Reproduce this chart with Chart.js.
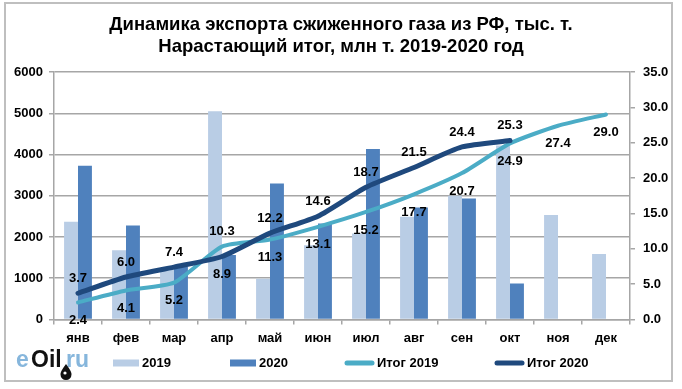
<!DOCTYPE html>
<html>
<head>
<meta charset="utf-8">
<style>
    html, body { margin: 0; padding: 0; background: #fff; }
    #wrap { width: 682px; height: 389px; }
</style>
<script src="https://cdn.jsdelivr.net/npm/chart.js@4"></script>
</head>
<body>
<div id="wrap"><canvas id="chart" width="682" height="389"></canvas></div>
<script>
// Chart data
var months = ['янв', 'фев', 'мар', 'апр', 'май', 'июн', 'июл', 'авг', 'сен', 'окт', 'ноя', 'дек'];
var bars2019 = [2370, 1680, 1235, 5050, 985, 1800, 2085, 2490, 3000, 4220, 2530, 1585];
var bars2020 = [3725, 2280, 1275, 1560, 3295, 2325, 4135, 2715, 2930, 870, null, null];
var total2019 = [2.4, 4.1, 5.2, 10.3, 11.3, 13.1, 15.2, 17.7, 20.7, 24.9, 27.4, 29.0];
var total2020 = [3.7, 6.0, 7.4, 8.9, 12.2, 14.6, 18.7, 21.5, 24.4, 25.3, null, null];
var leftTicks = [0, 1000, 2000, 3000, 4000, 5000, 6000];
var rightTicks = [0, 5, 10, 15, 20, 25, 30, 35];
var titleLines = ['Динамика экспорта сжиженного газа из РФ, тыс. т.', 'Нарастающий итог, млн т. 2019-2020 год'];

var FONT = '"Liberation Sans", Arial, sans-serif';
var GRID = '#a6a6a6';
var LOGO_BLUE = '#86b6dc';

// Legend row: the built-in one is too tall with wide uneven gaps
function drawLegend(chart) {
    var ctx = chart.ctx;
    var slots = [
        { x: 113, w: 26 },
        { x: 230, w: 26 },
        { x: 345, w: 29 },
        { x: 495, w: 29 }
    ];
    var midY = 363;
    ctx.font = 'bold 13px ' + FONT;
    ctx.textAlign = 'left';
    ctx.textBaseline = 'middle';
    chart.data.datasets.forEach(function(ds, i) {
        var s = slots[i];
        if (ds.type === 'line') {
            ctx.strokeStyle = ds.borderColor;
            ctx.lineWidth = 5;
            ctx.lineCap = 'round';
            ctx.beginPath();
            ctx.moveTo(s.x + 2, midY);
            ctx.lineTo(s.x + s.w - 2, midY);
            ctx.stroke();
        } else {
            ctx.fillStyle = ds.backgroundColor;
            ctx.fillRect(s.x, midY - 3.5, s.w, 7);
        }
        ctx.fillStyle = '#000';
        ctx.fillText(ds.label, s.x + s.w + 3, midY + 0.5);
    });
}

// eOil.ru logo with the oil drop under the l
function drawLogo(ctx) {
    ctx.textAlign = 'left';
    ctx.textBaseline = 'alphabetic';
    ctx.font = 'bold 23px ' + FONT;
    ctx.fillStyle = LOGO_BLUE;
    ctx.fillText('e', 16, 367);
    ctx.fillStyle = '#111';
    ctx.fillText('Oil', 31, 367);
    ctx.fillStyle = LOGO_BLUE;
    ctx.fillText('ru', 66, 367);

    ctx.fillStyle = '#111';
    ctx.beginPath();
    ctx.moveTo(66, 364);
    ctx.quadraticCurveTo(72, 372, 71.5, 374.5);
    ctx.arc(66, 374.5, 5.5, 0, Math.PI);
    ctx.quadraticCurveTo(60, 372, 66, 364);
    ctx.fill();
    ctx.fillStyle = '#fff';
    ctx.beginPath();
    ctx.arc(65, 373, 1.6, 0, Math.PI * 2);
    ctx.fill();
}

// Frame, legend, logo and the value labels on the two total lines
var extras = {
    id: 'extras',
    beforeDraw: function(chart) {
        var ctx = chart.ctx;
        ctx.save();
        ctx.strokeStyle = '#bfbfbf';
        ctx.lineWidth = 2;
        ctx.strokeRect(5, 3, 667, 378);
        ctx.restore();
    },
    afterDatasetsDraw: function(chart) {
        var ctx = chart.ctx;
        ctx.save();
        ctx.font = 'bold 13px ' + FONT;
        ctx.fillStyle = '#000';
        ctx.textAlign = 'center';
        ctx.textBaseline = 'middle';
        chart.data.datasets.forEach(function(ds, i) {
            if (ds.type !== 'line') return;
            chart.getDatasetMeta(i).data.forEach(function(pt, j) {
                if (ds.data[j] === null) return;
                var side = ds.flipLabels.indexOf(j) >= 0 ? -ds.labelSide : ds.labelSide;
                var off = side > 0 ? 18 : -15;
                ctx.fillText(ds.data[j].toFixed(1), pt.x, pt.y + off);
            });
        });
        drawLegend(chart);
        drawLogo(ctx);
        ctx.restore();
    }
};

new Chart(document.getElementById('chart'), {
    type: 'bar',
    data: {
        labels: months,
        datasets: [
            { label: '2019', data: bars2019, backgroundColor: '#b9cde5', order: 3, yAxisID: 'y' },
            { label: '2020', data: bars2020, backgroundColor: '#4f81bd', order: 3, yAxisID: 'y' },
            { type: 'line', label: 'Итог 2019', data: total2019, borderColor: '#4bacc6', backgroundColor: '#4bacc6',
              borderWidth: 4, pointRadius: 0, tension: 0.2, borderCapStyle: 'round', order: 2, yAxisID: 'y2',
              labelSide: 1, flipLabels: [3] },
            { type: 'line', label: 'Итог 2020', data: total2020, borderColor: '#1f497d', backgroundColor: '#1f497d',
              borderWidth: 5, pointRadius: 0, tension: 0.2, borderCapStyle: 'round', order: 1, yAxisID: 'y2',
              labelSide: -1, flipLabels: [3] }
        ]
    },
    options: {
        responsive: false,
        animation: false,
        layout: { padding: { left: 0, right: 0, top: 4, bottom: 37 } },
        datasets: { bar: { categoryPercentage: 0.58, barPercentage: 1 } },
        plugins: {
            title: {
                display: true,
                text: titleLines,
                color: '#000',
                font: { family: FONT, size: 18.5, weight: 'bold', lineHeight: 1.19 },
                padding: { top: 10, bottom: 14 }
            },
            legend: { display: false },
            tooltip: { enabled: false }
        },
        scales: {
            x: {
                grid: { display: true, drawOnChartArea: false, color: GRID, tickLength: 5, lineWidth: 1.5 },
                border: { color: GRID, width: 1.5 },
                ticks: { color: '#000', font: { family: FONT, size: 13, weight: 'bold' }, padding: 6, maxRotation: 0 }
            },
            y: {
                position: 'left',
                min: 0,
                max: 6000,
                afterBuildTicks: function(axis) { axis.ticks = leftTicks.map(function(v) { return { value: v }; }); },
                afterFit: function(axis) { axis.width = 54; },
                grid: { color: GRID, lineWidth: 1.5, tickLength: 5 },
                border: { color: GRID, width: 1.5 },
                ticks: {
                    color: '#000',
                    font: { family: FONT, size: 13, weight: 'bold' },
                    padding: 6,
                    callback: function(v) { return String(v); }
                }
            },
            y2: {
                position: 'right',
                min: 0,
                max: 35,
                afterBuildTicks: function(axis) { axis.ticks = rightTicks.map(function(v) { return { value: v }; }); },
                afterFit: function(axis) { axis.width = 52; },
                grid: { drawOnChartArea: false, color: GRID, lineWidth: 1.5, tickLength: 5 },
                border: { color: GRID, width: 1.5 },
                ticks: {
                    color: '#000',
                    font: { family: FONT, size: 13, weight: 'bold' },
                    padding: 8,
                    callback: function(v) { return v.toFixed(1); }
                }
            }
        }
    },
    plugins: [extras]
});
</script>
</body>
</html>
